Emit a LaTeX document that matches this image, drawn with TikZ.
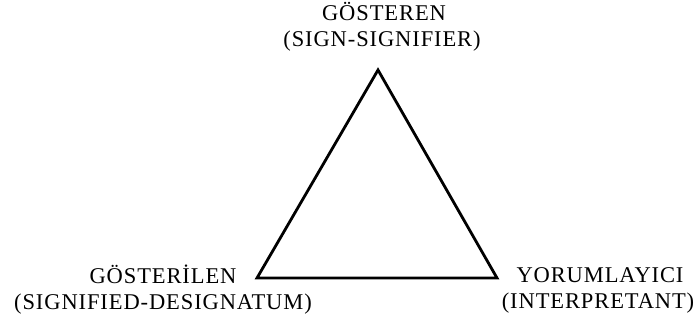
\documentclass[tikz,border=0pt]{standalone}
\usepackage{fontspec}
\setmainfont{Liberation Serif}[LetterSpace=4]
\begin{document}
\begin{tikzpicture}[x=1pt,y=-1pt,
  lbl/.style={align=center,inner sep=0pt,font=\fontsize{22.5}{26}\selectfont,anchor=base},
  tri/.style={draw=black,line width=2.8pt,line join=miter}]
\useasboundingbox (0,0) rectangle (700,326);
\coordinate (top) at (378,70);
\coordinate (bl) at (257,278);
\coordinate (br) at (497,278);
\draw[tri] (top) -- (bl) -- (br) -- cycle;
\node[lbl] (t1) at (384,21) {GÖSTEREN};
\node[lbl] (t2) at (382,47) {(SIGN-SIGNIFIER)};
\node[lbl] (l1) at (163,283) {GÖSTERİLEN};
\node[lbl] (l2) at (163,309) {(SIGNIFIED-DESIGNATUM)};
\node[lbl] (r1) at (600,282) {YORUMLAYICI};
\node[lbl] (r2) at (598,308) {(INTERPRETANT)};
\end{tikzpicture}
\end{document}
